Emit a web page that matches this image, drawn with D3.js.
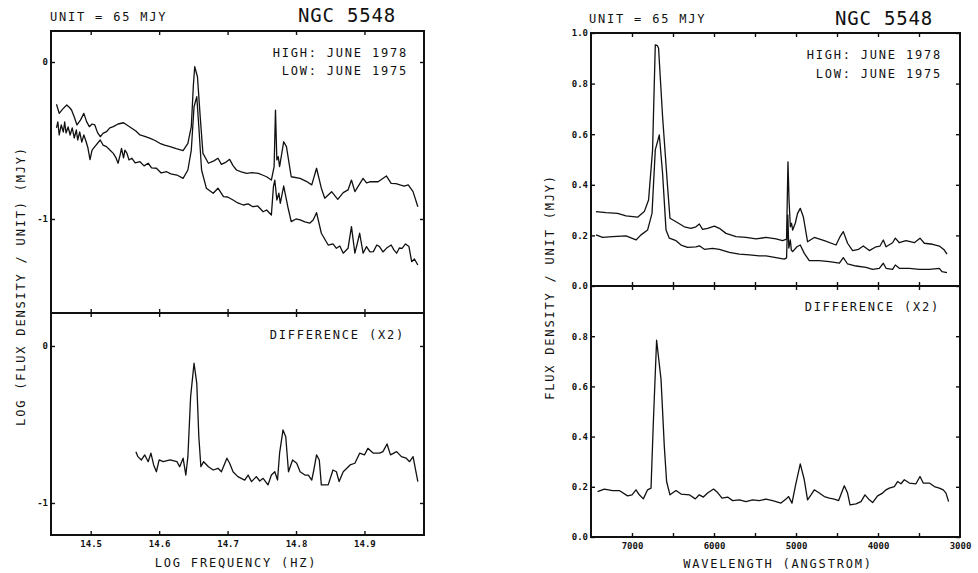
<!DOCTYPE html>
<html><head><meta charset="utf-8">
<script src="https://cdn.jsdelivr.net/npm/d3@7"></script>
<style>
body{margin:0;background:#fff}
svg{display:block}
text{font-family:"DejaVu Sans Mono",monospace;fill:#111}
</style>
</head><body>
<svg id="c" width="978" height="573"></svg>
<script>
// ---------------- DATA ----------------
const objectName = "NGC 5548";
const unitLabel = "UNIT = 65 MJY";
const legendHigh = "HIGH: JUNE 1978";
const legendLow = "LOW: JUNE 1975";
const diffLabel = "DIFFERENCE (X2)";
const freqAxisLabel = "LOG FREQUENCY (HZ)";
const logYAxisLabel = "LOG (FLUX DENSITY / UNIT)   (MJY)";
const waveAxisLabel = "WAVELENGTH (ANGSTROM)";
const linYAxisLabel = "FLUX DENSITY / UNIT   (MJY)";

const freqTicks = [14.5, 14.6, 14.7, 14.8, 14.9];
const freqTickLabels = ["14.5", "14.6", "14.7", "14.8", "14.9"];
const logTicks = [0, -1];
const logTickLabels = ["0", "-1"];
const waveMajorTicks = [7000, 6000, 5000, 4000, 3000];
const waveTickLabels = ["7000", "6000", "5000", "4000", "3000"];
const waveMinorTicks = [7000, 6500, 6000, 5500, 5000, 4500, 4000, 3500];
const fluxTicksTop = [0, 0.2, 0.4, 0.6, 0.8, 1.0];
const fluxTickLabelsTop = ["0.0", "0.2", "0.4", "0.6", "0.8", "1.0"];
const fluxTicksBot = [0, 0.2, 0.4, 0.6, 0.8];
const fluxTickLabelsBot = ["0.0", "0.2", "0.4", "0.6", "0.8"];

// log frequency (Hz) vs log flux, high state (June 1978)
const logHigh = [
[14.450,-0.269],[14.454,-0.327],[14.459,-0.300],[14.465,-0.274],[14.469,-0.290],[14.472,-0.306],
[14.476,-0.350],[14.480,-0.401],[14.485,-0.370],[14.490,-0.327],[14.494,-0.380],[14.498,-0.412],
[14.502,-0.395],[14.506,-0.401],[14.510,-0.450],[14.514,-0.476],[14.518,-0.455],[14.523,-0.444],
[14.528,-0.420],[14.533,-0.412],[14.540,-0.395],[14.548,-0.387],[14.554,-0.405],[14.560,-0.422],
[14.566,-0.440],[14.572,-0.465],[14.580,-0.475],[14.587,-0.486],[14.594,-0.500],[14.601,-0.518],
[14.608,-0.530],[14.616,-0.539],[14.625,-0.552],[14.635,-0.565],[14.642,-0.518],[14.647,-0.412],
[14.650,-0.150],[14.652,-0.030],[14.656,-0.094],[14.660,-0.348],[14.664,-0.582],[14.672,-0.645],
[14.680,-0.630],[14.686,-0.613],[14.691,-0.652],[14.697,-0.640],[14.703,-0.620],[14.708,-0.660],
[14.713,-0.688],[14.720,-0.700],[14.728,-0.709],[14.736,-0.705],[14.745,-0.709],[14.751,-0.720],
[14.757,-0.731],[14.764,-0.752],[14.768,-0.667],[14.770,-0.306],[14.772,-0.624],[14.774,-0.603],
[14.776,-0.667],[14.782,-0.508],[14.786,-0.539],[14.793,-0.731],[14.806,-0.741],[14.815,-0.760],
[14.823,-0.783],[14.830,-0.677],[14.837,-0.804],[14.842,-0.868],[14.852,-0.826],[14.861,-0.875],
[14.869,-0.832],[14.876,-0.815],[14.881,-0.752],[14.886,-0.826],[14.898,-0.741],[14.903,-0.770],
[14.908,-0.763],[14.920,-0.763],[14.932,-0.726],[14.939,-0.773],[14.946,-0.775],[14.952,-0.783],
[14.958,-0.790],[14.964,-0.783],[14.971,-0.826],[14.978,-0.922]
];
// low state (June 1975)
const logLow = [
[14.450,-0.420],[14.452,-0.382],[14.454,-0.465],[14.457,-0.401],[14.460,-0.446],[14.462,-0.382],
[14.464,-0.452],[14.467,-0.414],[14.470,-0.465],[14.473,-0.420],[14.476,-0.484],[14.479,-0.433],
[14.481,-0.497],[14.484,-0.446],[14.487,-0.510],[14.490,-0.465],[14.493,-0.503],[14.496,-0.548],
[14.499,-0.622],[14.502,-0.561],[14.506,-0.539],[14.514,-0.497],[14.518,-0.529],[14.523,-0.539],
[14.528,-0.561],[14.533,-0.582],[14.537,-0.611],[14.540,-0.645],[14.543,-0.592],[14.545,-0.550],
[14.548,-0.611],[14.550,-0.561],[14.553,-0.582],[14.556,-0.624],[14.560,-0.613],[14.565,-0.643],
[14.572,-0.635],[14.578,-0.662],[14.584,-0.645],[14.589,-0.675],[14.596,-0.677],[14.603,-0.707],
[14.611,-0.699],[14.617,-0.713],[14.626,-0.720],[14.635,-0.741],[14.642,-0.688],[14.647,-0.561],
[14.651,-0.285],[14.655,-0.221],[14.658,-0.412],[14.662,-0.688],[14.669,-0.804],[14.679,-0.836],
[14.686,-0.804],[14.694,-0.858],[14.700,-0.860],[14.708,-0.879],[14.715,-0.898],[14.723,-0.911],
[14.730,-0.904],[14.737,-0.922],[14.744,-0.917],[14.752,-0.954],[14.757,-0.943],[14.764,-0.975],
[14.767,-0.794],[14.769,-0.752],[14.772,-0.879],[14.775,-0.836],[14.777,-0.900],[14.782,-0.790],
[14.788,-0.922],[14.793,-1.017],[14.800,-1.000],[14.806,-1.006],[14.813,-1.019],[14.820,-1.027],
[14.825,-1.006],[14.830,-0.960],[14.837,-1.091],[14.847,-1.166],[14.854,-1.159],[14.859,-1.187],
[14.864,-1.172],[14.869,-1.218],[14.876,-1.187],[14.881,-1.049],[14.886,-1.218],[14.889,-1.166],
[14.893,-1.091],[14.898,-1.218],[14.903,-1.176],[14.908,-1.210],[14.913,-1.208],[14.918,-1.166],
[14.922,-1.176],[14.927,-1.210],[14.932,-1.187],[14.939,-1.166],[14.943,-1.197],[14.947,-1.218],
[14.951,-1.185],[14.955,-1.187],[14.960,-1.159],[14.965,-1.176],[14.969,-1.272],[14.973,-1.255],
[14.978,-1.293]
];
// log difference (x2)
const logDiff = [
[14.566,-0.673],[14.569,-0.705],[14.574,-0.726],[14.579,-0.694],[14.584,-0.737],[14.588,-0.683],
[14.592,-0.758],[14.596,-0.801],[14.600,-0.726],[14.606,-0.737],[14.616,-0.726],[14.626,-0.737],
[14.630,-0.769],[14.635,-0.715],[14.639,-0.822],[14.642,-0.705],[14.646,-0.323],[14.651,-0.110],
[14.655,-0.238],[14.658,-0.578],[14.661,-0.769],[14.665,-0.737],[14.672,-0.769],[14.679,-0.790],
[14.686,-0.779],[14.691,-0.801],[14.699,-0.715],[14.703,-0.747],[14.708,-0.801],[14.715,-0.832],
[14.725,-0.854],[14.730,-0.822],[14.735,-0.864],[14.742,-0.832],[14.747,-0.860],[14.752,-0.843],
[14.759,-0.885],[14.764,-0.822],[14.769,-0.801],[14.773,-0.854],[14.776,-0.683],[14.781,-0.535],
[14.785,-0.578],[14.789,-0.801],[14.795,-0.726],[14.801,-0.747],[14.806,-0.801],[14.813,-0.822],
[14.818,-0.822],[14.823,-0.854],[14.826,-0.790],[14.830,-0.694],[14.834,-0.726],[14.837,-0.885],
[14.847,-0.885],[14.854,-0.790],[14.859,-0.801],[14.863,-0.864],[14.869,-0.801],[14.879,-0.758],
[14.886,-0.747],[14.893,-0.683],[14.900,-0.694],[14.905,-0.652],[14.913,-0.683],[14.922,-0.683],
[14.927,-0.673],[14.933,-0.624],[14.938,-0.694],[14.947,-0.673],[14.954,-0.705],[14.961,-0.715],
[14.966,-0.737],[14.971,-0.705],[14.978,-0.864]
];

// wavelength (Angstrom) vs flux / unit, high state
const waveHigh = [
[7439,0.294],[7317,0.290],[7176,0.287],[7073,0.277],[6932,0.272],[6850,0.294],[6798,0.340],
[6749,0.538],[6716,0.953],[6690,0.950],[6676,0.940],[6627,0.669],[6566,0.392],[6537,0.268],
[6463,0.254],[6362,0.234],[6280,0.228],[6220,0.234],[6179,0.245],[6139,0.224],[6078,0.228],
[5996,0.237],[5935,0.228],[5854,0.208],[5732,0.195],[5610,0.192],[5488,0.186],[5366,0.192],
[5244,0.186],[5163,0.179],[5115,0.185],[5098,0.491],[5085,0.340],[5069,0.234],[5054,0.248],
[5041,0.221],[5009,0.248],[4981,0.287],[4948,0.307],[4911,0.274],[4859,0.175],[4777,0.192],
[4655,0.179],[4512,0.162],[4463,0.195],[4423,0.215],[4371,0.169],[4310,0.140],[4237,0.145],
[4179,0.158],[4106,0.140],[4024,0.155],[3976,0.158],[3935,0.182],[3902,0.155],[3822,0.171],
[3789,0.189],[3740,0.171],[3659,0.179],[3557,0.171],[3488,0.189],[3435,0.169],[3334,0.165],
[3252,0.158],[3191,0.142],[3159,0.126]
];
// low state
const waveLow = [
[7439,0.202],[7359,0.192],[7237,0.195],[7073,0.198],[6951,0.182],[6890,0.202],[6810,0.221],
[6756,0.287],[6716,0.538],[6667,0.597],[6627,0.445],[6585,0.221],[6545,0.189],[6463,0.179],
[6402,0.162],[6322,0.153],[6220,0.155],[6179,0.159],[6118,0.145],[6017,0.149],[5935,0.145],
[5813,0.133],[5691,0.126],[5569,0.123],[5447,0.119],[5366,0.119],[5244,0.112],[5143,0.106],
[5115,0.111],[5100,0.281],[5088,0.150],[5069,0.182],[5057,0.142],[5041,0.136],[4988,0.155],
[4948,0.162],[4899,0.129],[4838,0.100],[4716,0.100],[4593,0.096],[4471,0.090],[4423,0.112],
[4371,0.087],[4268,0.079],[4146,0.074],[4066,0.066],[3984,0.070],[3935,0.090],[3902,0.070],
[3822,0.066],[3789,0.083],[3740,0.070],[3618,0.070],[3496,0.066],[3374,0.066],[3252,0.070],
[3220,0.057],[3159,0.053]
];
// difference (x2)
const waveDiff = [
[7420,0.181],[7338,0.191],[7237,0.185],[7155,0.185],[7054,0.164],[7000,0.168],[6951,0.188],
[6911,0.168],[6862,0.152],[6810,0.188],[6768,0.195],[6740,0.455],[6700,0.784],[6646,0.628],
[6606,0.361],[6578,0.221],[6537,0.168],[6463,0.185],[6402,0.171],[6301,0.168],[6228,0.152],
[6179,0.168],[6130,0.159],[6078,0.175],[6005,0.191],[5956,0.177],[5902,0.155],[5834,0.159],
[5773,0.145],[5691,0.148],[5610,0.141],[5529,0.148],[5448,0.145],[5366,0.151],[5285,0.145],
[5183,0.135],[5122,0.151],[5090,0.161],[5049,0.135],[5009,0.201],[4948,0.291],[4899,0.228],
[4859,0.148],[4817,0.168],[4777,0.188],[4716,0.175],[4655,0.161],[4593,0.155],[4533,0.151],
[4480,0.145],[4411,0.204],[4371,0.175],[4341,0.128],[4268,0.132],[4207,0.141],[4159,0.168],
[4106,0.148],[4066,0.137],[4005,0.164],[3944,0.175],[3902,0.188],[3862,0.195],[3801,0.201],
[3761,0.221],[3720,0.212],[3679,0.228],[3618,0.215],[3537,0.212],[3488,0.241],[3448,0.215],
[3374,0.215],[3313,0.201],[3252,0.195],[3204,0.188],[3171,0.175],[3139,0.141]
];

// ---------------- DRAW ----------------
const svg = d3.select("#c");
const INK = "#111";
const labelFont = {size: 12, ls: 1.8};

function addText(g, str, x, y, opts = {}) {
  const t = g.append("text").attr("x", x).attr("y", y).text(str)
    .attr("font-size", opts.size || labelFont.size)
    .attr("letter-spacing", (opts.ls !== undefined ? opts.ls : labelFont.ls) + "px")
    .attr("text-anchor", opts.anchor || "start");
  if (opts.weight) t.attr("font-weight", opts.weight);
  if (opts.rotate) t.attr("transform", `rotate(${opts.rotate},${x},${y})`);
  return t;
}

function styleAxis(sel) {
  sel.select(".domain").remove();
  sel.selectAll(".tick line").attr("stroke", INK).attr("stroke-width", 1.4);
  sel.selectAll(".tick text").attr("fill", INK).attr("font-size", 9).attr("font-weight", "bold")
    .attr("font-family", '"DejaVu Sans Mono",monospace');
}

function drawPanel(cfg) {
  const g = svg.append("g");
  const {L, R, T, M, B, x, yTop, yBot} = cfg;
  // frame
  g.append("rect").attr("x", L).attr("y", T).attr("width", R - L).attr("height", B - T)
    .attr("fill", "none").attr("stroke", INK).attr("stroke-width", 2);
  g.append("line").attr("x1", L).attr("x2", R).attr("y1", M).attr("y2", M)
    .attr("stroke", INK).attr("stroke-width", 2);

  const xt = cfg.xMinor;
  g.append("g").attr("transform", `translate(0,${T})`)
    .call(d3.axisBottom(x).tickValues(xt).tickSize(4).tickFormat("")).call(styleAxis);
  g.append("g").attr("transform", `translate(0,${M})`)
    .call(d3.axisBottom(x).tickValues(xt).tickSize(4).tickFormat("")).call(styleAxis);
  g.append("g").attr("transform", `translate(0,${M})`)
    .call(d3.axisTop(x).tickValues(xt).tickSize(4).tickFormat("")).call(styleAxis);
  g.append("g").attr("transform", `translate(0,${B})`)
    .call(d3.axisTop(x).tickValues(xt).tickSize(4).tickFormat("")).call(styleAxis);
  g.append("g").attr("transform", `translate(0,${B})`)
    .call(d3.axisBottom(x).tickValues(cfg.xLabelTicks).tickSize(0).tickPadding(6)
      .tickFormat((d, i) => cfg.xLabels[i])).call(styleAxis);

  [[yTop, cfg.yTicksTop, cfg.yLabelsTop], [yBot, cfg.yTicksBot, cfg.yLabelsBot]].forEach(([y, tv, tl]) => {
    g.append("g").attr("transform", `translate(${L},0)`)
      .call(d3.axisRight(y).tickValues(tv).tickSize(4).tickFormat("")).call(styleAxis);
    g.append("g").attr("transform", `translate(${R},0)`)
      .call(d3.axisLeft(y).tickValues(tv).tickSize(4).tickFormat("")).call(styleAxis);
    g.append("g").attr("transform", `translate(${L},0)`)
      .call(d3.axisLeft(y).tickValues(tv).tickSize(0).tickPadding(3)
        .tickFormat((d, i) => tl[i])).call(styleAxis);
  });

  const lineTop = d3.line().x(d => x(d[0])).y(d => yTop(d[1]));
  const lineBot = d3.line().x(d => x(d[0])).y(d => yBot(d[1]));
  cfg.topSeries.forEach(s => g.append("path").attr("d", lineTop(s))
    .attr("fill", "none").attr("stroke", INK).attr("stroke-width", 1.3).attr("stroke-linejoin", "round"));
  cfg.botSeries.forEach(s => g.append("path").attr("d", lineBot(s))
    .attr("fill", "none").attr("stroke", INK).attr("stroke-width", 1.3).attr("stroke-linejoin", "round"));

  addText(g, unitLabel, cfg.unitX, cfg.unitY);
  addText(g, objectName, cfg.nameX, cfg.nameY, {size: 19, ls: 0.8});
  addText(g, legendHigh, cfg.legX, cfg.legY1, {anchor: "end"});
  addText(g, legendLow, cfg.legX, cfg.legY2, {anchor: "end"});
  addText(g, diffLabel, cfg.diffX, cfg.diffY, {anchor: "end"});
  addText(g, cfg.xTitle, cfg.xTitleX, cfg.xTitleY, {anchor: "middle"});
  addText(g, cfg.yTitle, cfg.yTitleX, cfg.yTitleY, {anchor: "middle", rotate: -90});
  return g;
}

// Left: log frequency panel
const xL = d3.scaleLinear().domain([14.442, 14.987]).range([51, 424]);
drawPanel({
  L: 51, R: 424, T: 31, M: 313, B: 535,
  x: xL,
  yTop: d3.scaleLinear().domain([-1.599, 0.1975]).range([313, 31]),
  yBot: d3.scaleLinear().domain([-1.204, 0.210]).range([535, 313]),
  xMinor: freqTicks, xLabelTicks: freqTicks, xLabels: freqTickLabels,
  yTicksTop: logTicks, yLabelsTop: logTickLabels,
  yTicksBot: logTicks, yLabelsBot: logTickLabels,
  topSeries: [logHigh, logLow], botSeries: [logDiff],
  unitX: 50, unitY: 21, nameX: 298, nameY: 22,
  legX: 408, legY1: 57, legY2: 75, diffX: 405, diffY: 339,
  xTitle: freqAxisLabel, xTitleX: 236, xTitleY: 567,
  yTitle: logYAxisLabel, yTitleX: 24.5, yTitleY: 286
});

// Right: wavelength panel
const xR = d3.scaleLinear().domain([7500, 3000]).range([591, 960]);
drawPanel({
  L: 591, R: 960, T: 33, M: 286, B: 537,
  x: xR,
  yTop: d3.scaleLinear().domain([0, 1]).range([286, 33]),
  yBot: d3.scaleLinear().domain([0, 1]).range([537, 286]),
  xMinor: waveMinorTicks, xLabelTicks: waveMajorTicks, xLabels: waveTickLabels,
  yTicksTop: fluxTicksTop, yLabelsTop: fluxTickLabelsTop,
  yTicksBot: fluxTicksBot, yLabelsBot: fluxTickLabelsBot,
  topSeries: [waveHigh, waveLow], botSeries: [waveDiff],
  unitX: 589, unitY: 23, nameX: 835, nameY: 25,
  legX: 942, legY1: 59, legY2: 78, diffX: 940, diffY: 311,
  xTitle: waveAxisLabel, xTitleX: 778, xTitleY: 568,
  yTitle: linYAxisLabel, yTitleX: 553.5, yTitleY: 287
});
</script>
</body></html>
